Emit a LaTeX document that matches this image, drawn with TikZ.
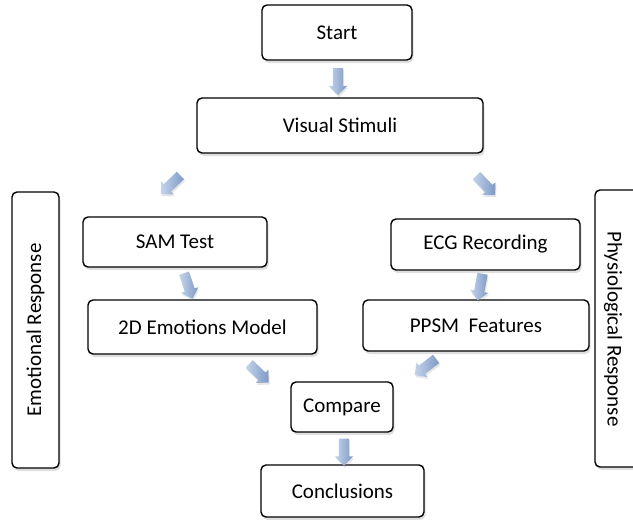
\documentclass[tikz,border=0pt]{standalone}
\usepackage{fontspec}
\setmainfont{Carlito}
\usetikzlibrary{shapes.arrows,shadows,calc}
\definecolor{arrA}{HTML}{C6D4EA}
\definecolor{arrB}{HTML}{7C99C7}
\tikzset{
  txt/.style={font=\fontsize{21}{25}\selectfont, inner sep=0pt},
  box/.style={draw=black, line width=1.4pt, rounded corners=5pt, fill=white,
    drop shadow={shadow xshift=1.5pt, shadow yshift=-3pt, opacity=0.25},
    txt},
  barrow/.style={single arrow, draw=none, inner sep=5pt, minimum height=27pt,
    single arrow head extend=4pt, single arrow tip angle=90,
    left color=arrA, right color=arrB,
    drop shadow={shadow xshift=1pt, shadow yshift=-2pt, opacity=0.2}},
}
\newcommand\barr[2]{\path let \p1=($(#2)-(#1)$), \n1={atan2(\y1,\x1)} in
  node[barrow, rotate=\n1] at ($(#1)!0.5!(#2)$) {};}
\begin{document}
\begin{tikzpicture}[x=1pt,y=-1pt]
\useasboundingbox (0,0) rectangle (633,520);
% boxes
\node[box, minimum width=150pt, minimum height=55pt] (start) at (337,32.5) {Start};
\node[box, minimum width=286pt, minimum height=55pt] (visual) at (340,125.5) {Visual Stimuli};
\node[box, minimum width=184pt, minimum height=50pt] (sam) at (175,242) {SAM Test};
\node[box, minimum width=229pt, minimum height=54pt] (emo) at (202.5,327) {2D Emotions Model};
\node[box, minimum width=189pt, minimum height=51pt] (ecg) at (485.5,244.5) {ECG Recording};
\node[box, minimum width=226pt, minimum height=51pt] (ppsm) at (476,325.5) {PPSM\ \ Features};
\node[box, minimum width=102pt, minimum height=50pt] (compare) at (342,407) {Compare};
\node[box, minimum width=163pt, minimum height=52pt] (concl) at (342.5,491) {Conclusions};
\node[box, minimum width=47pt, minimum height=276pt] (emobox) at (35.5,330) {};
\node[txt, rotate=90] (emotext) at (emobox.center) {Emotional Response};
\node[box, minimum width=48pt, minimum height=277pt] (phybox) at (619,328.5) {};
\node[txt, rotate=-90] (phytext) at (613,329) {Physiological Response};
% arrow end points
\coordinate (a1) at (338,65);  \coordinate (b1) at (338,93);
\coordinate (a2) at (184,172); \coordinate (b2) at (161,194);
\coordinate (a3) at (473,172); \coordinate (b3) at (495,195);
\coordinate (a4) at (183,270); \coordinate (b4) at (192,297);
\coordinate (a5) at (246,361); \coordinate (b5) at (268,382);
\coordinate (a6) at (483,271); \coordinate (b6) at (478,298);
\coordinate (a7) at (440,356); \coordinate (b7) at (415,375);
\coordinate (a8) at (344,436); \coordinate (b8) at (344,463);
\barr{a1}{b1}
\barr{a2}{b2}
\barr{a3}{b3}
\barr{a4}{b4}
\barr{a5}{b5}
\barr{a6}{b6}
\barr{a7}{b7}
\barr{a8}{b8}
\end{tikzpicture}
\end{document}
